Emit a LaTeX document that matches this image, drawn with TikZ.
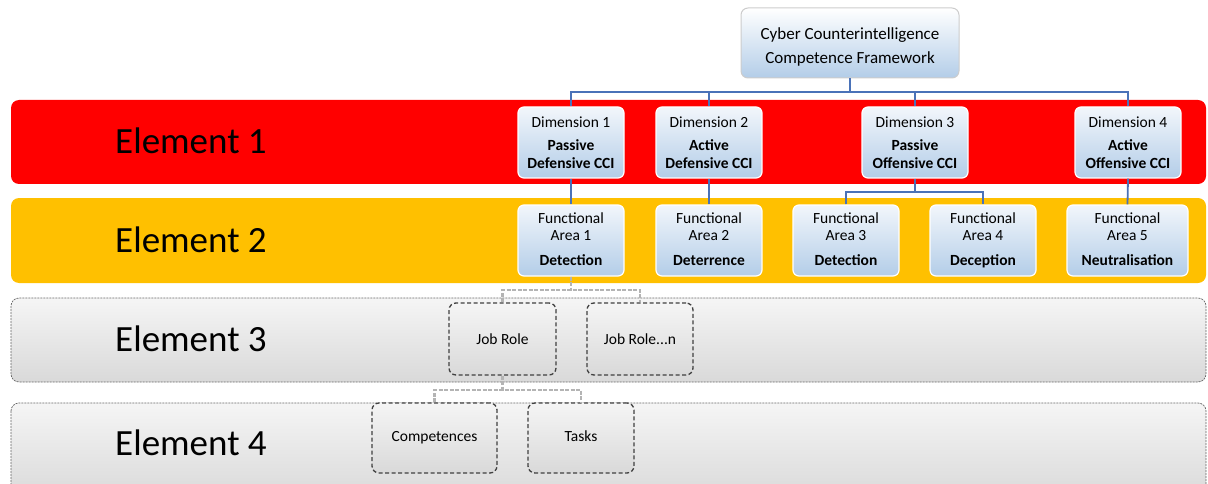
\documentclass[tikz,border=0pt]{standalone}
\usepackage{fontspec}
\setmainfont{Carlito}
\definecolor{ccired}{HTML}{FF0000}
\definecolor{cciorange}{HTML}{FFC000}
\definecolor{cciblue}{HTML}{4A72B8}
\definecolor{boxtop}{HTML}{F2F6FB}
\definecolor{boxbot}{HTML}{B3CDE8}
\definecolor{bandtop}{HTML}{F5F5F5}
\definecolor{bandbot}{HTML}{D9D9D9}
\definecolor{conngray}{HTML}{B4B4B4}
\definecolor{dashdark}{HTML}{404040}
\begin{document}
\begin{tikzpicture}[x=1pt,y=-1pt,
  band/.style={rounded corners=8pt},
  elabel/.style={font=\fontsize{37}{40}\selectfont, anchor=center},
  bluebox/.style={rounded corners=6pt, top color=boxtop, bottom color=boxbot, draw=white, line width=1.2pt,
     minimum width=106pt, minimum height=71pt, inner sep=0pt, align=center,
     font=\fontsize{15.5}{17.5}\selectfont},
  dashbox/.style={rounded corners=7pt, top color=bandtop, bottom color=bandbot, draw=dashdark, dashed,
     line width=1.3pt, dash pattern=on 4pt off 2.5pt, minimum height=72pt, inner sep=0pt, align=center,
     font=\fontsize{15.5}{17.5}\selectfont},
  blueline/.style={draw=cciblue, line width=1.8pt},
  grayline/.style={draw=conngray, line width=2.2pt, dash pattern=on 4pt off 1.5pt}
]
\useasboundingbox (0,0) rectangle (1208,484);
% bands
\fill[band, ccired] (11,100) rectangle (1206,184);
\fill[band, cciorange] (11,198) rectangle (1206,283);
\shade[band, top color=bandtop, bottom color=bandbot] (11,298) rectangle (1206,382);
\draw[band, gray!80!black, line width=0.7pt, dash pattern=on 2pt off 1pt] (11,298) rectangle (1206,382);
\shade[band, top color=bandtop, bottom color=bandbot] (11,403) rectangle (1206,500);
\draw[band, gray!80!black, line width=0.7pt, dash pattern=on 2pt off 1pt] (11,403) rectangle (1206,500);
% element labels
\node[elabel] (e1) at (191,141) {Element 1};
\node[elabel] (e2) at (191,240) {Element 2};
\node[elabel] (e3) at (191,339) {Element 3};
\node[elabel] (e4) at (191,443) {Element 4};
% top box
\node[rounded corners=7pt, top color=white, bottom color=boxbot, draw=gray!40, line width=1pt,
  minimum width=218pt, minimum height=70pt, inner sep=0pt] (top) at (850,43) {};
\node[align=center, inner sep=0pt, font=\fontsize{17}{24}\selectfont] (toptext) at (850,47)
  {Cyber Counterintelligence\\Competence Framework};
% dimension boxes
\node[bluebox] (d1) at (571,142.5) {Dimension 1\\[6pt]\textbf{Passive}\\\textbf{Defensive CCI}};
\node[bluebox] (d2) at (709,142.5) {Dimension 2\\[6pt]\textbf{Active}\\\textbf{Defensive CCI}};
\node[bluebox] (d3) at (915,142.5) {Dimension 3\\[6pt]\textbf{Passive}\\\textbf{Offensive CCI}};
\node[bluebox] (d4) at (1128,142.5) {Dimension 4\\[6pt]\textbf{Active}\\\textbf{Offensive CCI}};
% functional areas
\node[bluebox] (fa1) at (571,240.5) {\strut Functional\\Area 1\\[7pt]\textbf{Detection}\strut};
\node[bluebox] (fa2) at (709,240.5) {\strut Functional\\Area 2\\[7pt]\textbf{Deterrence}\strut};
\node[bluebox] (fa3) at (846,240.5) {\strut Functional\\Area 3\\[7pt]\textbf{Detection}\strut};
\node[bluebox] (fa4) at (983,240.5) {\strut Functional\\Area 4\\[7pt]\textbf{Deception}\strut};
\node[bluebox, minimum width=121pt] (fa5) at (1127.5,240.5) {\strut Functional\\Area 5\\[7pt]\textbf{Neutralisation}\strut};
% job roles
\node[dashbox, minimum width=107pt] (jr1) at (502.5,339) {Job Role};
\node[dashbox, minimum width=106pt] (jr2) at (640,339) {Job Role...n};
% competences / tasks
\node[dashbox, minimum width=125pt, minimum height=70pt] (comp) at (434.5,438) {\strut Competences};
\node[dashbox, minimum width=106pt, minimum height=70pt] (tasks) at (581,438) {\strut Tasks};
% blue connectors
\coordinate (b1) at (850,92);
\coordinate (b2) at (915,192);
\draw[blueline] (top.south) -- (b1);
\draw[blueline] (d1.north) |- (b1) -| (d4.north);
\draw[blueline] (d2.north) -- (d2.north |- b1);
\draw[blueline] (d3.north) -- (d3.north |- b1);
\draw[blueline] (d1.south) -- (fa1.north);
\draw[blueline] (d2.south) -- (fa2.north);
\draw[blueline] (d3.south) -- (b2);
\draw[blueline] (fa3.north) |- (b2) -| (fa4.north);
\draw[blueline] (d4.south) -- (fa5.north);
% gray connectors
\coordinate (b3) at (571,290);
\coordinate (b4) at (502.5,390);
\draw[grayline] (fa1.south) -- (b3);
\draw[grayline] (jr1.north) |- (b3) -| (jr2.north);
\draw[grayline] (jr1.south) -- (b4);
\draw[grayline] (comp.north) |- (b4) -| (tasks.north);
\end{tikzpicture}
\end{document}
